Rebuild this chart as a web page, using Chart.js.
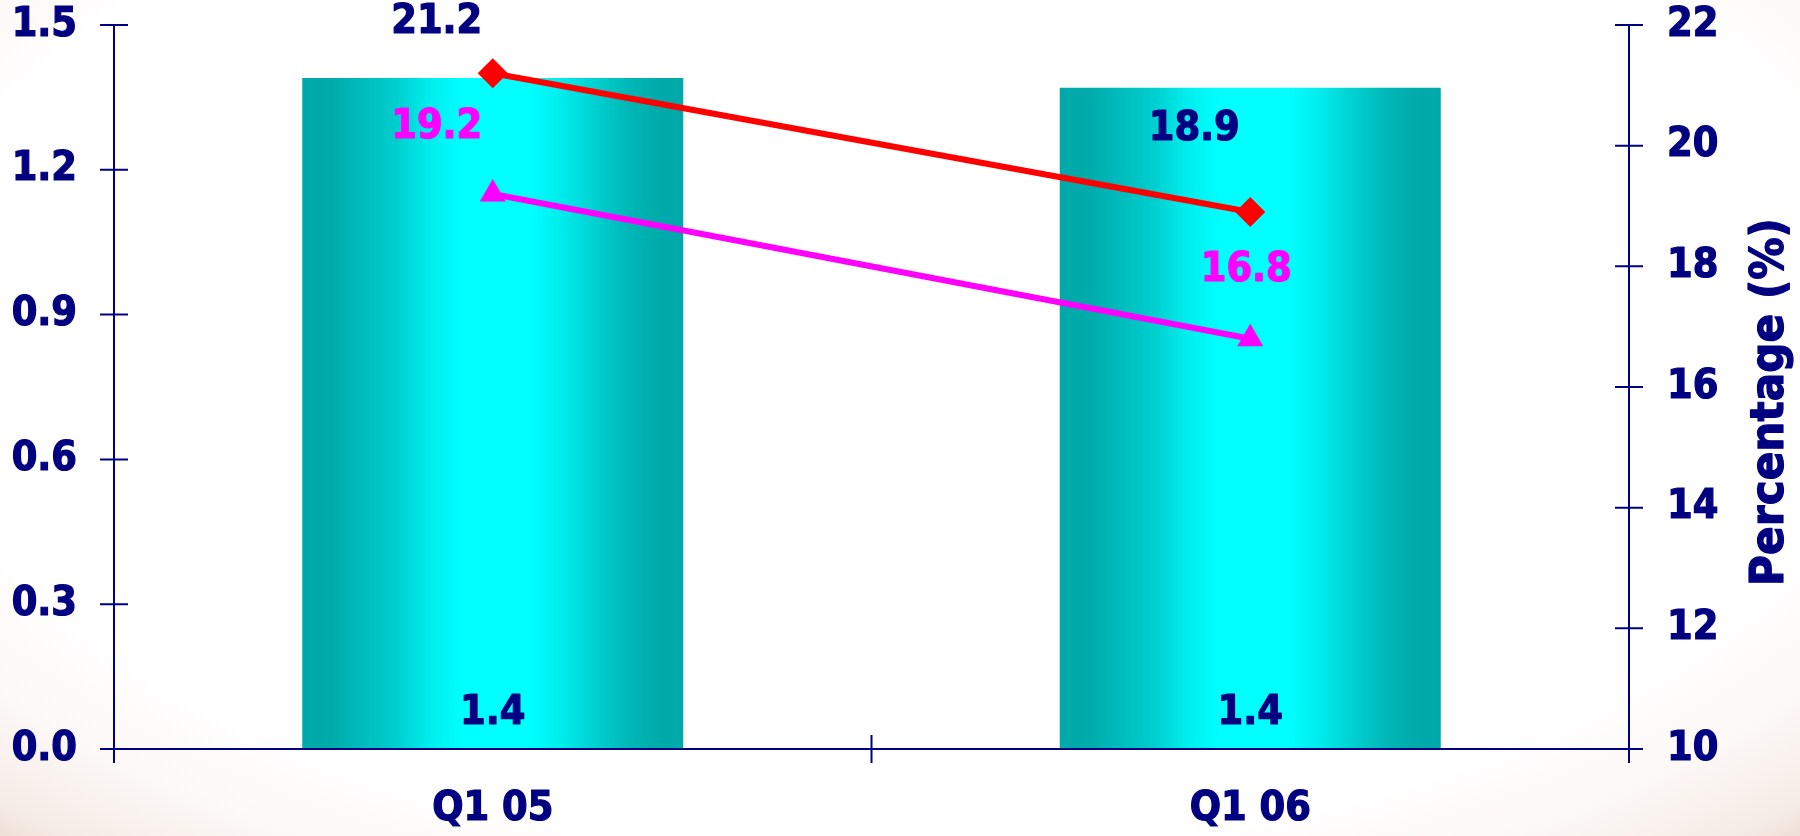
<!DOCTYPE html>
<html>
<head>
<meta charset="utf-8">
<script src="https://cdn.jsdelivr.net/npm/chart.js@4.4.1/dist/chart.umd.min.js"></script>
<style>
  html, body { margin: 0; padding: 0; }
  body {
    width: 1800px; height: 836px; overflow: hidden;
    background: radial-gradient(ellipse 75% 85% at 50% 40%, #ffffff 0%, #ffffff 72%, #fcf8f6 84%, #f5ebe5 94%, #e8d4ca 100%);
  }
  #wrap { position: absolute; left: 0; top: 0; width: 1800px; height: 836px; }
</style>
</head>
<body>
<div id="wrap"><canvas id="chart" width="1800" height="836"></canvas></div>
<script>
// Quarterly figures
const categories = ['Q1 05', 'Q1 06'];
const barValues = [1.39, 1.37];
const redValues = [21.2, 18.9];
const magentaValues = [19.2, 16.8];

// Axis ticks
const leftTicks = [0, 0.3, 0.6, 0.9, 1.2, 1.5];
const rightTicks = [10, 12, 14, 16, 18, 20, 22];
const rightTitle = 'Percentage (%)';

const NAVY = '#000080';
const FONT = "'DejaVu Sans Condensed', 'DejaVu Sans', sans-serif";
const BAR_FRACTION = 0.503;
const HEAVY = 1.2; // extra stroke to thicken the bold glyphs

// Cyan cylinder-like shading across each bar
function barGradient(ctx) {
  const chart = ctx.chart;
  const xs = chart.scales.x;
  if (!xs || ctx.dataIndex === undefined) return '#00ffff';
  const cx = xs.getPixelForValue(ctx.dataIndex);
  const w = (xs.width / categories.length) * BAR_FRACTION;
  if (!isFinite(cx) || !isFinite(w) || w <= 0) return '#00ffff';
  const g = chart.ctx.createLinearGradient(cx - w / 2, 0, cx + w / 2, 0);
  g.addColorStop(0.00, '#00a9a9');
  g.addColorStop(0.08, '#00abab');
  g.addColorStop(0.25, '#00cfcf');
  g.addColorStop(0.33, '#00ecec');
  g.addColorStop(0.42, '#00ffff');
  g.addColorStop(0.60, '#00ffff');
  g.addColorStop(0.68, '#00ecec');
  g.addColorStop(0.77, '#00d0d0');
  g.addColorStop(0.86, '#00b6b6');
  g.addColorStop(0.93, '#00abab');
  g.addColorStop(1.00, '#00a9a9');
  return g;
}

// Axis lines with ticks crossing the line
const axisPlugin = {
  id: 'crossAxes',
  afterDatasetsDraw(chart) {
    const { ctx, chartArea: a, scales } = chart;
    ctx.save();
    ctx.strokeStyle = NAVY;
    ctx.lineWidth = 2;
    ctx.beginPath();
    ctx.moveTo(a.left, a.top); ctx.lineTo(a.left, a.bottom);
    ctx.moveTo(a.right, a.top); ctx.lineTo(a.right, a.bottom);
    ctx.moveTo(a.left, a.bottom); ctx.lineTo(a.right, a.bottom);
    const t = 14;
    leftTicks.forEach(v => {
      const y = scales.y.getPixelForValue(v);
      ctx.moveTo(a.left - t, y); ctx.lineTo(a.left + t, y);
    });
    rightTicks.forEach(v => {
      const y = scales.y1.getPixelForValue(v);
      ctx.moveTo(a.right - t, y); ctx.lineTo(a.right + t, y);
    });
    for (let i = 0; i <= categories.length; i++) {
      const x = scales.x.getPixelForValue(i - 0.5);
      ctx.moveTo(x, a.bottom - t); ctx.lineTo(x, a.bottom + t);
    }
    ctx.stroke();
    ctx.restore();
  }
};

function heavyText(ctx, text, x, y, color) {
  ctx.fillStyle = color;
  ctx.strokeStyle = color;
  ctx.lineWidth = HEAVY;
  ctx.lineJoin = 'round';
  ctx.strokeText(text, x, y);
  ctx.fillText(text, x, y);
}

// Value labels and rotated right-hand title
const labelPlugin = {
  id: 'valueLabels',
  afterDraw(chart) {
    const { ctx, chartArea: a } = chart;
    ctx.save();
    ctx.font = 'bold 41px ' + FONT;
    ctx.textAlign = 'center';
    ctx.textBaseline = 'middle';

    chart.getDatasetMeta(0).data.forEach((el, i) => {
      heavyText(ctx, barValues[i].toFixed(1), el.x, el.base - 36, NAVY);
    });

    const redOffsets = [[-56, -51], [-56, -83]];
    chart.getDatasetMeta(1).data.forEach((el, i) => {
      heavyText(ctx, redValues[i].toFixed(1), el.x + redOffsets[i][0], el.y + redOffsets[i][1], NAVY);
    });

    const magOffsets = [[-56, -67], [-4, -68]];
    chart.getDatasetMeta(2).data.forEach((el, i) => {
      heavyText(ctx, magentaValues[i].toFixed(1), el.x + magOffsets[i][0], el.y + magOffsets[i][1], '#ff00ff');
    });

    ctx.font = 'bold 47px ' + FONT;
    ctx.translate(a.right + 142, (a.top + a.bottom) / 2 + 15);
    ctx.rotate(-Math.PI / 2);
    heavyText(ctx, rightTitle, 0, 0, NAVY);
    ctx.restore();
  }
};

const tickFont = { family: FONT, size: 41, weight: 'bold' };
const tickStyle = { color: NAVY, font: tickFont, textStrokeColor: NAVY, textStrokeWidth: HEAVY };

// Fixed axis band sizes so the plot frame sits where intended
function fixVertical(width) {
  return s => { s.width = width; s.paddingTop = 25; s.paddingBottom = 0; };
}

new Chart(document.getElementById('chart'), {
  data: {
    labels: categories,
    datasets: [
      {
        type: 'bar',
        label: 'Ratio',
        data: barValues,
        yAxisID: 'y',
        backgroundColor: barGradient,
        borderWidth: 0,
        categoryPercentage: 1,
        barPercentage: BAR_FRACTION,
        order: 3
      },
      {
        type: 'line',
        label: 'Rate',
        data: redValues,
        yAxisID: 'y1',
        borderColor: '#ff0000',
        backgroundColor: '#ff0000',
        borderWidth: 6,
        pointStyle: 'rectRot',
        pointRadius: 15,
        pointBorderWidth: 0,
        tension: 0,
        order: 1
      },
      {
        type: 'line',
        label: 'Adjusted rate',
        data: magentaValues,
        yAxisID: 'y1',
        borderColor: '#ff00ff',
        backgroundColor: '#ff00ff',
        borderWidth: 6,
        pointStyle: 'triangle',
        pointRadius: 15,
        pointBorderWidth: 0,
        tension: 0,
        order: 2
      }
    ]
  },
  options: {
    responsive: false,
    animation: false,
    layout: { padding: 0 },
    plugins: { legend: { display: false }, tooltip: { enabled: false } },
    scales: {
      x: {
        type: 'category',
        offset: true,
        grid: { display: false, drawTicks: false },
        border: { display: false },
        ticks: Object.assign({ padding: 36, maxRotation: 0 }, tickStyle),
        afterFit(s) { s.height = 87; s.paddingLeft = 0; s.paddingRight = 0; }
      },
      y: {
        position: 'left',
        min: 0, max: 1.5,
        grid: { display: false, drawTicks: false },
        border: { display: false },
        afterBuildTicks(s) { s.ticks = leftTicks.map(v => ({ value: v })); },
        ticks: Object.assign({ padding: 37, callback: v => Number(v).toFixed(1) }, tickStyle),
        afterFit: fixVertical(114)
      },
      y1: {
        position: 'right',
        min: 10, max: 22,
        grid: { display: false, drawTicks: false },
        border: { display: false },
        afterBuildTicks(s) { s.ticks = rightTicks.map(v => ({ value: v })); },
        ticks: Object.assign({ padding: 38, callback: v => String(v) }, tickStyle),
        afterFit: fixVertical(171)
      }
    }
  },
  plugins: [axisPlugin, labelPlugin]
});
</script>
</body>
</html>
